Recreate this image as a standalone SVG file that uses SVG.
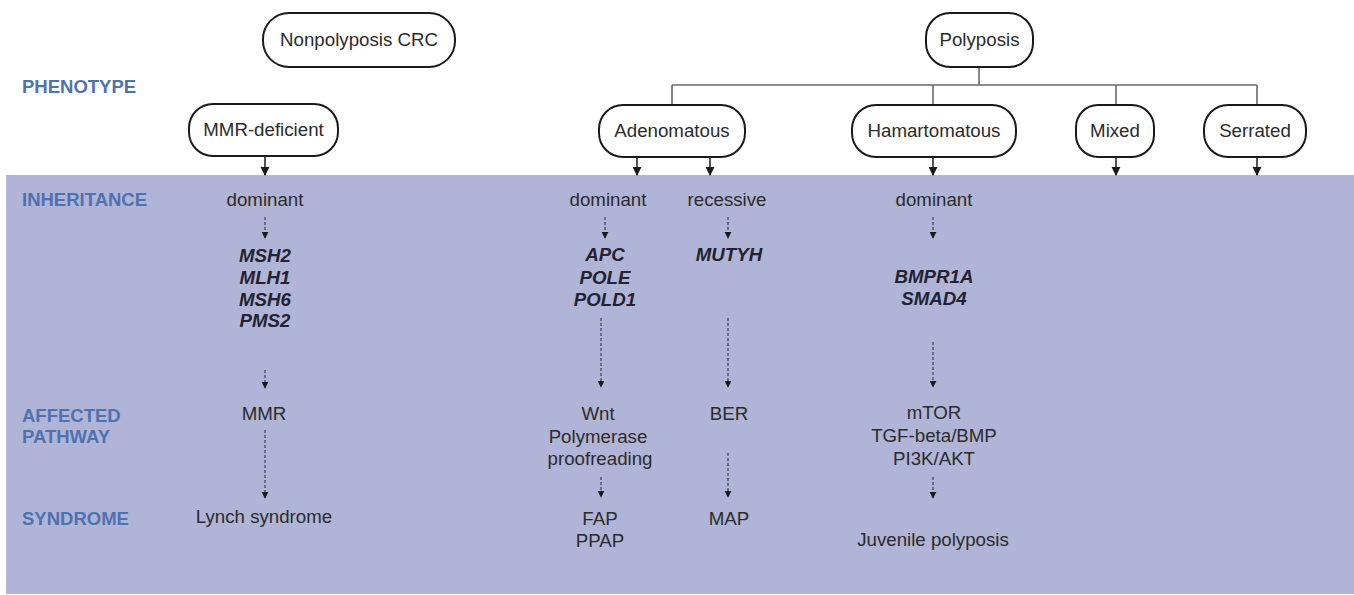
<svg xmlns="http://www.w3.org/2000/svg" width="1354" height="595" viewBox="0 0 1354 595">
<defs>
<style>
.box{fill:#ffffff;stroke:#1a1a1a;stroke-width:2}
.nt{font-family:"Liberation Sans",Arial,sans-serif;font-size:18.7px;fill:#2b2b2b;text-anchor:middle}
.lbl{font-family:"Liberation Sans",Arial,sans-serif;font-size:18.5px;font-weight:bold;fill:#4e72b0}
.gene{font-family:"Liberation Sans",Arial,sans-serif;font-size:18.7px;font-weight:bold;font-style:italic;fill:#222230;text-anchor:middle}
.tree{fill:none;stroke:#6a6a6a;stroke-width:1.6}
.solid{fill:none;stroke:#1a1a1a;stroke-width:1.5;marker-end:url(#ah)}
.dash{fill:none;stroke:#333340;stroke-width:1.1;stroke-dasharray:3 2;marker-end:url(#ahs)}
</style>
<marker id="ah" viewBox="0 0 10 10" refX="9" refY="5" markerWidth="9" markerHeight="10" markerUnits="userSpaceOnUse" orient="auto">
<path d="M0,0 L10,5 L0,10 z" fill="#1a1a1a"/>
</marker>
<marker id="ahs" viewBox="0 0 10 10" refX="9" refY="5" markerWidth="7" markerHeight="8" markerUnits="userSpaceOnUse" orient="auto">
<path d="M0,0 L10,5 L0,10 z" fill="#1a1a1a"/>
</marker>
</defs>
<rect x="0" y="0" width="1354" height="595" fill="#ffffff"/>
<rect id="band" x="6" y="175" width="1348" height="419" fill="#b0b4d7"/>

<g id="row-labels">
<text class="lbl" x="22" y="93">PHENOTYPE</text>
<text class="lbl" x="22" y="206">INHERITANCE</text>
<text class="lbl" x="22" y="422">AFFECTED</text>
<text class="lbl" x="22" y="443">PATHWAY</text>
<text class="lbl" x="22" y="525">SYNDROME</text>
</g>

<g id="connectors">
<path class="tree" d="M979,67 V85 M672,85 H1257 M672,85 V105 M933,85 V105 M1116,85 V105 M1257,85 V105"/>
<path class="solid" d="M265,156 V175"/>
<path class="solid" d="M637,157 V175"/>
<path class="solid" d="M710,157 V175"/>
<path class="solid" d="M933,157 V175"/>
<path class="solid" d="M1116,157 V175"/>
<path class="solid" d="M1257,157 V175"/>
<path class="dash" d="M265,217 V238"/>
<path class="dash" d="M265,370 V388"/>
<path class="dash" d="M265,430 V498"/>
<path class="dash" d="M605,217 V238"/>
<path class="dash" d="M728,217 V238"/>
<path class="dash" d="M601,318 V387"/>
<path class="dash" d="M728,318 V387"/>
<path class="dash" d="M601,477 V497"/>
<path class="dash" d="M728,453 V497"/>
<path class="dash" d="M933,217 V238"/>
<path class="dash" d="M933,342 V387"/>
<path class="dash" d="M933,477 V498"/>
</g>

<g id="node-nonpolyposis">
<rect class="box" x="263" y="13" width="192" height="54" rx="26"/>
<text class="nt" x="359" y="46">Nonpolyposis CRC</text>
</g>
<g id="node-polyposis">
<rect class="box" x="926" y="13" width="107" height="54" rx="24"/>
<text class="nt" x="979.5" y="46">Polyposis</text>
</g>
<g id="node-mmr-deficient">
<rect class="box" x="189" y="104" width="149" height="52" rx="24"/>
<text class="nt" x="263.5" y="136">MMR-deficient</text>
</g>
<g id="node-adenomatous">
<rect class="box" x="599" y="105" width="146" height="52" rx="24"/>
<text class="nt" x="672" y="137">Adenomatous</text>
</g>
<g id="node-hamartomatous">
<rect class="box" x="852" y="105" width="164" height="52" rx="24"/>
<text class="nt" x="934" y="137">Hamartomatous</text>
</g>
<g id="node-mixed">
<rect class="box" x="1076" y="105" width="78" height="52" rx="22"/>
<text class="nt" x="1115" y="137">Mixed</text>
</g>
<g id="node-serrated">
<rect class="box" x="1204" y="105" width="102" height="52" rx="24"/>
<text class="nt" x="1255" y="137">Serrated</text>
</g>

<g id="col-lynch">
<text class="nt" x="265" y="206">dominant</text>
<text class="gene" x="265" y="262">MSH2</text>
<text class="gene" x="265" y="284">MLH1</text>
<text class="gene" x="265" y="305.5">MSH6</text>
<text class="gene" x="265" y="327">PMS2</text>
<text class="nt" x="264" y="420">MMR</text>
<text class="nt" x="264" y="523">Lynch syndrome</text>
</g>
<g id="col-fap">
<text class="nt" x="608" y="206">dominant</text>
<text class="gene" x="605" y="261">APC</text>
<text class="gene" x="605" y="283.5">POLE</text>
<text class="gene" x="605" y="306">POLD1</text>
<text class="nt" x="598" y="420">Wnt</text>
<text class="nt" x="598" y="443">Polymerase</text>
<text class="nt" x="600" y="465">proofreading</text>
<text class="nt" x="600" y="525">FAP</text>
<text class="nt" x="600" y="547">PPAP</text>
</g>
<g id="col-map">
<text class="nt" x="727" y="206">recessive</text>
<text class="gene" x="729" y="261">MUTYH</text>
<text class="nt" x="729" y="420">BER</text>
<text class="nt" x="729" y="525">MAP</text>
</g>
<g id="col-juvenile">
<text class="nt" x="934" y="206">dominant</text>
<text class="gene" x="934" y="283">BMPR1A</text>
<text class="gene" x="934" y="305">SMAD4</text>
<text class="nt" x="934" y="419">mTOR</text>
<text class="nt" x="934" y="442">TGF-beta/BMP</text>
<text class="nt" x="934" y="465">PI3K/AKT</text>
<text class="nt" x="933" y="546">Juvenile polyposis</text>
</g>
</svg>
